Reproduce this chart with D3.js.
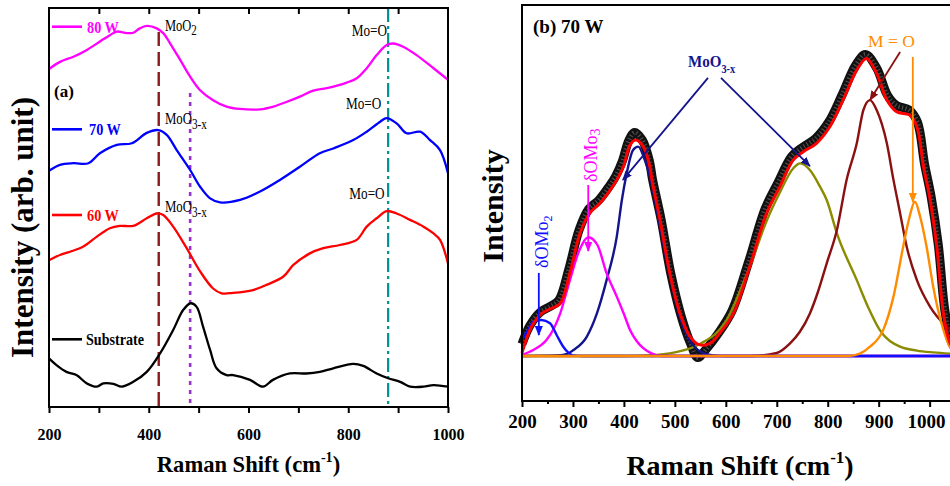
<!DOCTYPE html>
<html>
<head>
<meta charset="utf-8">
<script src="https://cdn.jsdelivr.net/npm/d3@7"></script>
<style>
  html, body { margin: 0; padding: 0; background: #fff; }
  svg { display: block; }
  text { font-family: "Liberation Serif", "Times New Roman", serif; }
</style>
</head>
<body>
<svg id="chart" width="950" height="486"></svg>
<script>
// ---------- Panel (a): Raman spectra, [shift (cm-1), intensity (arb.)] ----------
const spec80W = [[200,84.7],[222,86.5],[249,87.8],[276,89.5],[302,91.6],[322,93.2],[336,94.1],[356,93.7],[369,93.8],[382,94.9],[396,95.5],[416,94.9],[429,93.7],[443,91.1],[463,87.0],[483,82.8],[503,79.4],[529,76.9],[556,75.3],[583,74.7],[623,74.6],[650,75.3],[677,76.5],[703,77.8],[730,79.3],[757,79.9],[797,81.3],[817,82.4],[837,84.9],[857,88.2],[877,90.7],[890,91.1],[910,90.3],[937,88.2],[971,84.9],[1000,82.0]];
const spec70W = [[200,59.2],[222,60.7],[249,61.1],[279,61.1],[302,63.6],[336,65.7],[366,66.1],[396,68.7],[419,69.4],[436,68.2],[456,64.4],[483,59.4],[503,55.2],[523,52.3],[543,51.3],[583,51.9],[623,54.0],[663,56.9],[703,60.2],[743,63.6],[770,64.8],[810,66.9],[837,69.0],[864,71.5],[877,72.4],[897,71.1],[917,68.6],[944,69.0],[964,66.9],[984,64.4],[1000,58.6]];
const spec60W = [[200,36.8],[222,38.1],[242,38.9],[269,40.2],[296,42.7],[322,44.8],[342,45.4],[369,45.4],[396,47.3],[416,48.5],[429,48.1],[449,45.2],[476,39.8],[503,34.0],[529,29.7],[546,28.5],[569,28.6],[609,29.3],[636,30.6],[670,32.7],[690,35.6],[723,38.5],[750,39.8],[783,40.6],[817,41.9],[837,45.2],[857,47.3],[877,49.1],[897,48.5],[924,46.9],[951,45.2],[971,43.5],[984,41.9],[1000,36.0]];
const specSubstrate = [[200,12.2],[215,10.5],[235,8.8],[255,8.0],[276,5.9],[296,5.1],[309,5.9],[329,5.8],[346,5.1],[369,6.3],[396,8.8],[423,13.5],[449,19.3],[469,24.3],[484,26.0],[496,25.1],[509,20.1],[523,14.3],[536,9.7],[556,8.0],[569,8.0],[603,6.8],[629,5.1],[649,6.8],[683,8.4],[716,8.4],[743,8.8],[770,9.7],[810,10.8],[830,10.3],[857,8.4],[880,7.2],[904,6.3],[924,5.1],[951,5.1],[971,5.5],[1000,5.1]];
const seriesNamesA = ["80 W", "70 W", "60 W", "Substrate"];
// band assignments marked by guide lines: MoO2, MoO3-x, Mo=O
const bandCenters = [420, 483, 880];
const ticksA = [200, 300, 400, 500, 600, 700, 800, 900, 1000];

// ---------- Panel (b): 70 W spectrum with fitted components, [shift, normalised intensity] ----------
const measured70W = [[200,0.04],[215,0.10],[235,0.145],[255,0.165],[272,0.185],[292,0.29],[312,0.42],[331,0.49],[351,0.52],[371,0.565],[384,0.60],[397,0.65],[410,0.72],[421,0.745],[436,0.72],[450,0.65],[456,0.59],[473,0.455],[492,0.275],[512,0.135],[530,0.045],[545,-0.005],[560,0.02],[585,0.075],[612,0.15],[644,0.31],[677,0.49],[703,0.58],[729,0.665],[750,0.695],[776,0.725],[802,0.78],[828,0.87],[855,0.97],[874,1.005],[896,0.96],[917,0.87],[935,0.835],[960,0.82],[976,0.78],[990,0.64],[1003,0.53],[1017,0.37],[1030,0.15],[1043,0.045],[1058,0.01]];
const fitTotal = [[200,0.01],[219,0.098],[239,0.142],[258,0.159],[275,0.175],[294,0.276],[314,0.409],[333,0.476],[353,0.509],[373,0.553],[386,0.587],[399,0.631],[412,0.703],[423,0.72],[438,0.698],[451,0.631],[455,0.587],[471,0.453],[490,0.276],[510,0.142],[530,0.064],[549,0.037],[569,0.042],[590,0.08],[615,0.142],[647,0.298],[680,0.476],[706,0.564],[732,0.653],[752,0.681],[778,0.709],[804,0.764],[830,0.853],[857,0.953],[876,0.992],[896,0.942],[916,0.853],[935,0.814],[961,0.803],[975,0.764],[988,0.631],[1000,0.53],[1014,0.364],[1027,0.142],[1040,0.043],[1055,0.01],[1070,0.005]];
const peakOMo2 = [[200,0.055],[212,0.087],[222,0.114],[238,0.12],[255,0.109],[268,0.07],[281,0.031],[291,0.011],[300,0.002],[320,0],[1100,0]];
const peakOMo3 = [[200,0.004],[222,0.02],[248,0.053],[262,0.09],[275,0.142],[294,0.253],[312,0.35],[330,0.396],[348,0.37],[366,0.276],[386,0.198],[400,0.14],[412,0.087],[425,0.05],[438,0.026],[455,0.008],[475,0],[1100,0]];
const peakMoO3xLow = [[200,0],[270,0.002],[290,0.008],[301,0.02],[327,0.064],[347,0.142],[366,0.253],[386,0.398],[396,0.52],[405,0.605],[418,0.687],[428,0.698],[441,0.653],[451,0.598],[470,0.44],[490,0.27],[510,0.13],[530,0.05],[550,0.015],[575,0.002],[600,0],[1100,0]];
const peakMoO3xHigh = [[200,0],[400,0],[450,0.002],[500,0.012],[549,0.04],[600,0.115],[647,0.298],[680,0.45],[706,0.545],[732,0.625],[746,0.642],[765,0.62],[785,0.564],[798,0.52],[818,0.409],[857,0.253],[880,0.16],[902,0.087],[942,0.031],[975,0.018],[1007,0.012],[1040,0.008],[1100,0.004]];
const peakMO1 = [[200,0],[650,0],[700,0.01],[726,0.042],[745,0.08],[765,0.142],[782,0.22],[798,0.309],[818,0.42],[837,0.587],[857,0.709],[870,0.82],[883,0.853],[896,0.82],[916,0.709],[929,0.587],[942,0.476],[955,0.364],[975,0.253],[1001,0.164],[1033,0.098],[1060,0.06],[1100,0.035]];
const peakMO2 = [[200,0],[840,0],[863,0.008],[883,0.031],[909,0.087],[929,0.198],[948,0.364],[960,0.46],[971,0.514],[982,0.46],[994,0.364],[1007,0.231],[1027,0.087],[1040,0.03],[1060,0.005],[1100,0]];
const ticksBMajor = [200, 300, 400, 500, 600, 700, 800, 900, 1000];
const ticksBMinor = [250, 350, 450, 550, 650, 750, 850, 950, 1050];

const svg = d3.select("#chart");
const FONT = '"Liberation Serif", "Times New Roman", serif';

// text with optional sub/superscript parts, rotation and horizontal squeeze
function label(parent, o) {
  let tf = `translate(${o.x},${o.y})`;
  if (o.rotate) tf += ` rotate(${o.rotate})`;
  if (o.sx && o.sx !== 1) tf += ` scale(${o.sx},1)`;
  const t = parent.append("text")
    .attr("transform", tf)
    .attr("font-family", FONT)
    .attr("font-size", o.size)
    .attr("font-weight", o.weight || "normal")
    .attr("fill", o.color || "#000")
    .attr("text-anchor", o.anchor || "start");
  o.parts.forEach(p => {
    const s = t.append("tspan").text(p.t);
    if (p.size) s.attr("font-size", p.size);
    if (p.dy) s.attr("dy", p.dy);
  });
  return t;
}

// ================= Panel (a) =================
const xA = d3.scaleLinear().domain([200, 1000]).range([49, 448]);
const yA = d3.scaleLinear().domain([0, 100]).range([407, 8]);
const gA = svg.append("g");
const lineA = d3.line().x(d => xA(d[0])).y(d => yA(d[1])).curve(d3.curveCatmullRom.alpha(0.5));

// guide lines for band positions
const guideStyles = [
  { color: "#8b1a1a", dash: "14,6", width: 2.4, top: 94 },
  { color: "#9932cc", dash: "4,5", width: 2.6, top: 78.7 },
  { color: "#009090", dash: "14,4,3,4", width: 2.2, top: 100 }
];
bandCenters.forEach((c, i) => {
  const s = guideStyles[i];
  gA.append("line")
    .attr("x1", xA(c)).attr("x2", xA(c))
    .attr("y1", yA(s.top)).attr("y2", yA(0))
    .attr("stroke", s.color).attr("stroke-width", s.width)
    .attr("stroke-dasharray", s.dash);
});

const colorsA = ["#ff00ff", "#0000ff", "#ff0000", "#000000"];
[spec80W, spec70W, spec60W, specSubstrate].forEach((s, i) => {
  gA.append("path").datum(s).attr("d", lineA)
    .attr("fill", "none").attr("stroke", colorsA[i]).attr("stroke-width", 2.3)
    .attr("stroke-linejoin", "round");
});

// frame + ticks
gA.append("rect").attr("x", 49).attr("y", 8).attr("width", 399).attr("height", 399)
  .attr("fill", "none").attr("stroke", "#000").attr("stroke-width", 2);
gA.append("g").attr("transform", `translate(0,${yA(0)})`)
  .call(d3.axisBottom(xA).tickValues(ticksA).tickSize(6).tickFormat(d => d % 200 === 0 ? d : ""))
  .call(g => g.select(".domain").remove())
  .call(g => g.selectAll("line").attr("stroke", "#000").attr("stroke-width", 2))
  .call(g => g.selectAll("text").attr("font-family", FONT).attr("font-size", 16)
    .attr("font-weight", "bold").attr("fill", "#000").attr("y", 33).attr("dy", 0));
gA.append("g").attr("transform", `translate(0,${yA(100)})`)
  .call(d3.axisTop(xA).tickValues(ticksA.slice(1, -1)).tickSize(-6).tickFormat(""))
  .call(g => g.select(".domain").remove())
  .call(g => g.selectAll("line").attr("stroke", "#000").attr("stroke-width", 2));

// legend
const legendA = [
  { y: 26.7, tx: 87, ty: 32.5 },
  { y: 129.3, tx: 89, ty: 135 },
  { y: 215, tx: 87, ty: 220.5 },
  { y: 339.3, tx: 86, ty: 345 }
];
seriesNamesA.forEach((n, i) => {
  const L = legendA[i];
  gA.append("line").attr("x1", 52).attr("x2", 82).attr("y1", L.y).attr("y2", L.y)
    .attr("stroke", colorsA[i]).attr("stroke-width", 2.6);
  label(gA, { x: L.tx, y: L.ty, size: 17, weight: "bold", color: colorsA[i],
    sx: i === 3 ? 0.83 : 0.84, parts: [{ t: n }] });
});

label(gA, { x: 54, y: 97, size: 17, weight: "bold", parts: [{ t: "(a)" }] });
label(gA, { x: 165, y: 30.7, size: 16, sx: 0.78, parts: [{ t: "MoO" }, { t: "2", size: 14, dy: 4 }] });
label(gA, { x: 165, y: 123.5, size: 16, sx: 0.8, parts: [{ t: "MoO" }, { t: "3-x", size: 14, dy: 5 }] });
label(gA, { x: 165, y: 211.5, size: 16, sx: 0.8, parts: [{ t: "MoO" }, { t: "3-x", size: 14, dy: 5 }] });
[[351.7, 36], [346, 109], [349.3, 199]].forEach(p => {
  label(gA, { x: p[0], y: p[1], size: 16.5, sx: 0.8, parts: [{ t: "Mo=O" }] });
});

// axis titles
label(gA, { x: 248.5, y: 472, size: 24, weight: "bold", anchor: "middle", sx: 0.94,
  parts: [{ t: "Raman Shift (cm" }, { t: "-1", size: 15, dy: -10 }, { t: ")", size: 24, dy: 10 }] });
label(gA, { x: 33, y: 227.5, size: 31, weight: "bold", anchor: "middle", rotate: -90,
  parts: [{ t: "Intensity (arb. unit)" }] });

// ================= Panel (b) =================
const xB = d3.scaleLinear().domain([200, 1100]).range([522, 980.6]);
const yB = d3.scaleLinear().domain([-0.15, 1.17]).range([401, 5]);
const gB = svg.append("g");
const lineB = d3.line().x(d => xB(d[0])).y(d => yB(d[1])).curve(d3.curveCatmullRom.alpha(0.5));
const lineComp = d3.line().x(d => xB(d[0])).y(d => yB(d[1])).curve(d3.curveMonotoneX);

// measured spectrum (dense open symbols)
gB.append("path").datum(measured70W).attr("d", lineB)
  .attr("fill", "none").attr("stroke", "#111").attr("stroke-width", 9).attr("stroke-linejoin", "round");
gB.append("path").datum(measured70W).attr("d", lineB)
  .attr("fill", "none").attr("stroke", "#9a9a9a").attr("stroke-width", 4.5)
  .attr("stroke-dasharray", "1.2,2.4").attr("opacity", 0.45);

const components = [
  { data: peakMoO3xHigh, color: "#8b8b00" },
  { data: peakMO1, color: "#8b1010" },
  { data: peakMoO3xLow, color: "#14148c" },
  { data: peakOMo3, color: "#ff00ff" },
  { data: peakOMo2, color: "#1010ff" },
  { data: peakMO2, color: "#ff8c00" }
];
components.forEach(c => {
  gB.append("path").datum(c.data).attr("d", lineComp)
    .attr("fill", "none").attr("stroke", c.color).attr("stroke-width", 2.4);
});
gB.append("path").datum(fitTotal).attr("d", lineB)
  .attr("fill", "none").attr("stroke", "#ff0000").attr("stroke-width", 3);

// frame + ticks
gB.append("rect").attr("x", 522).attr("y", 5).attr("width", 470).attr("height", 396)
  .attr("fill", "none").attr("stroke", "#000").attr("stroke-width", 2);
gB.append("g").attr("transform", `translate(0,${yB.range()[0]})`)
  .call(d3.axisBottom(xB).tickValues(ticksBMajor).tickSize(6).tickFormat(d3.format("d")))
  .call(g => g.select(".domain").remove())
  .call(g => g.selectAll("line").attr("stroke", "#000").attr("stroke-width", 2))
  .call(g => g.selectAll("text").attr("font-family", FONT).attr("font-size", 19)
    .attr("font-weight", "bold").attr("fill", "#000").attr("y", 27).attr("dy", 0))
  // the last label sits at the window edge: right-align it so it stays whole
  .call(g => g.selectAll(".tick").filter(d => d === 1000).select("text")
    .attr("text-anchor", "end").attr("x", 945 - xB(1000)));
gB.append("g").attr("transform", `translate(0,${yB.range()[0]})`)
  .call(d3.axisBottom(xB).tickValues(ticksBMinor).tickSize(3).tickFormat(""))
  .call(g => g.select(".domain").remove())
  .call(g => g.selectAll("line").attr("stroke", "#000").attr("stroke-width", 2));

// arrow markers
const defs = svg.append("defs");
function marker(id, color) {
  defs.append("marker").attr("id", id).attr("viewBox", "0 0 10 10")
    .attr("refX", 9).attr("refY", 5).attr("markerWidth", 10).attr("markerHeight", 10)
    .attr("markerUnits", "userSpaceOnUse").attr("orient", "auto")
    .append("path").attr("d", "M0,1 L10,5 L0,9 Z").attr("fill", color);
}
marker("arNavy", "#14148c");
marker("arDark", "#8b1010");
marker("arOrange", "#ff8c00");
marker("arMag", "#ff00ff");
marker("arBlue", "#1010ff");

const arrows = [
  { from: [565, 0.927], to: [398, 0.587], color: "#14148c", m: "arNavy" },
  { from: [590.5, 0.927], to: [765, 0.633], color: "#14148c", m: "arNavy" },
  { from: [942, 1.013], to: [883, 0.853], color: "#8b1010", m: "arDark" },
  { from: [967, 0.997], to: [967, 0.513], color: "#ff8c00", m: "arOrange" },
  { from: [330, 0.57], to: [330, 0.35], color: "#ff00ff", m: "arMag" },
  { from: [233, 0.277], to: [233, 0.07], color: "#1010ff", m: "arBlue" }
];
arrows.forEach(a => {
  gB.append("line")
    .attr("x1", xB(a.from[0])).attr("y1", yB(a.from[1]))
    .attr("x2", xB(a.to[0])).attr("y2", yB(a.to[1]))
    .attr("stroke", a.color).attr("stroke-width", 1.8)
    .attr("marker-end", `url(#${a.m})`);
});

label(gB, { x: 533, y: 33, size: 19, weight: "bold", parts: [{ t: "(b) 70 W" }] });
label(gB, { x: xB(525.7), y: yB(0.964), size: 17.5, weight: "bold", color: "#14148c", sx: 0.86,
  parts: [{ t: "MoO" }, { t: "3-x", size: 12, dy: 6 }] });
label(gB, { x: xB(879), y: yB(1.031), size: 17.5, color: "#ff8c00", parts: [{ t: "M = O" }] });
label(gB, { x: xB(251), y: yB(0.293), size: 18, color: "#1010ff", rotate: -90,
  parts: [{ t: "\u03b4OMo" }, { t: "2", size: 12, dy: 4 }] });
label(gB, { x: xB(347), y: yB(0.58), size: 18, color: "#ff00ff", rotate: -90,
  parts: [{ t: "\u03b4OMo" }, { t: "3", size: 14, dy: 3 }] });

label(gB, { x: 740, y: 475, size: 28, weight: "bold", anchor: "middle", sx: 1.0,
  parts: [{ t: "Raman Shift (cm" }, { t: "-1", size: 17, dy: -12 }, { t: ")", size: 28, dy: 12 }] });
label(gB, { x: 503, y: 206, size: 30, weight: "bold", anchor: "middle", rotate: -90,
  parts: [{ t: "Intensity" }] });
</script>
</body>
</html>
